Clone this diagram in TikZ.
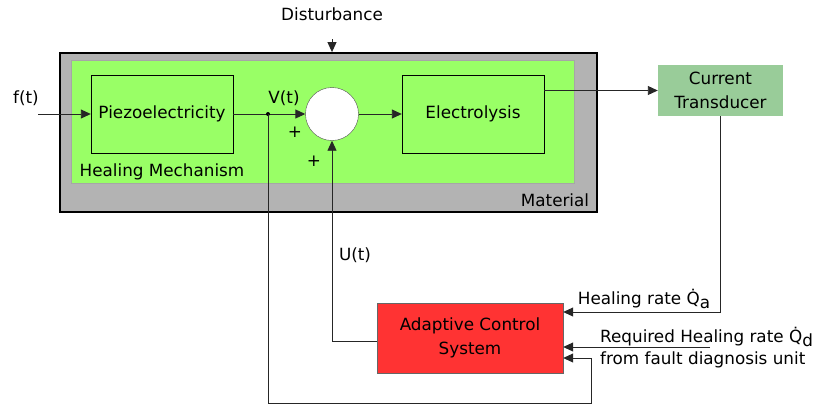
\documentclass[tikz,border=0pt]{standalone}
\usepackage{fontspec}
\setmainfont{DejaVu Sans}
\usetikzlibrary{arrows.meta,calc}

\definecolor{matgray}{HTML}{B3B3B3}
\definecolor{mechgreen}{HTML}{99FF66}
\definecolor{transgreen}{HTML}{99CC99}
\definecolor{acsred}{HTML}{FF3333}

\begin{document}
\begin{tikzpicture}[x=1pt,y=-1pt,
    blk/.style={draw=black,fill=mechgreen,minimum width=142pt,minimum height=78pt,
                inner sep=0pt},
    lnk/.style={draw=black!85,line width=0.9pt},
    arr/.style={lnk,-{Triangle[length=10pt,width=9pt]}},
    every node/.style={font=\fontsize{16.8}{24}\selectfont}]
  \useasboundingbox (0,0) rectangle (817,405);
  %-------------------------------------------------- the material and its mechanism
  \node[draw=black,line width=1.8pt,fill=matgray,minimum width=537pt,
        minimum height=159pt] (material) at (328.5,132.5) {};
  \node[draw=black!35,line width=0.9pt,fill=mechgreen,minimum width=503pt,
        minimum height=123pt] (mech) at (322.5,121.5) {};
  \node[blk] (piezo) at (162,114) {Piezoelectricity};
  \node[blk] (elec)  at (473,114) {Electrolysis};
  \node[circle,draw=black!70,fill=white,minimum size=53pt,inner sep=0pt]
       (sum) at (332,114) {};
  \node (healmech) at (162,172) {Healing Mechanism};
  \node (mat) at (555,200) {Material};
  %-------------------------------------------------- outside blocks
  \node[fill=transgreen,minimum width=125pt,minimum height=51pt,inner sep=0pt,
        align=center] (trans) at (720.5,90.5) {Current\\Transducer};
  \node[draw=black!60,fill=acsred,minimum width=186pt,minimum height=70pt,
        inner sep=0pt,align=center] (acs) at (470,338) {Adaptive Control\\System};
  %-------------------------------------------------- signals
  \node (dist) at (332,14) {Disturbance};
  \coordinate (distin) at (332,39);
  \draw[arr] (distin) -- (distin |- material.north);
  \node (ft) at (26,98) {f(t)};
  \coordinate (fin) at (38,114);
  \draw[arr] (fin) -- (piezo.west);
  \draw[arr] (piezo.east) -- (sum.west);
  \coordinate (vtap) at (268,114);
  \fill[black] (vtap) circle (2pt);
  \node (vt) at (284,98) {V(t)};
  \node (plusA) at (295,132) {+};
  \node (plusB) at (314,161) {+};
  \draw[arr] (sum.east) -- (elec.west);
  \draw[arr] (elec.east |- trans.west) -- (trans.west);
  % feedback paths
  \draw[arr] (trans.south) |- ($(acs.east)+(0,-26)$);
  \node (qa) at (644,299) {Healing rate Q̇\raisebox{-4pt}{a}};
  \coordinate (reqin) at (710,347);
  \draw[arr] (reqin) -- (reqin -| acs.east);
  \node[anchor=west,inner sep=0pt] (req) at (600,337) {Required Healing rate Q̇\raisebox{-4pt}{d}};
  \node[anchor=west,inner sep=0pt] (fdu) at (600,360) {from fault diagnosis unit};
  \coordinate (loopc) at (591,403);
  \draw[arr] (vtap) |- (loopc) |- ($(acs.east)+(0,20)$);
  \draw[arr] ($(acs.west)+(0,3)$) -| (sum.south);
  \node (ut) at (355,255) {U(t)};
\end{tikzpicture}
\end{document}
